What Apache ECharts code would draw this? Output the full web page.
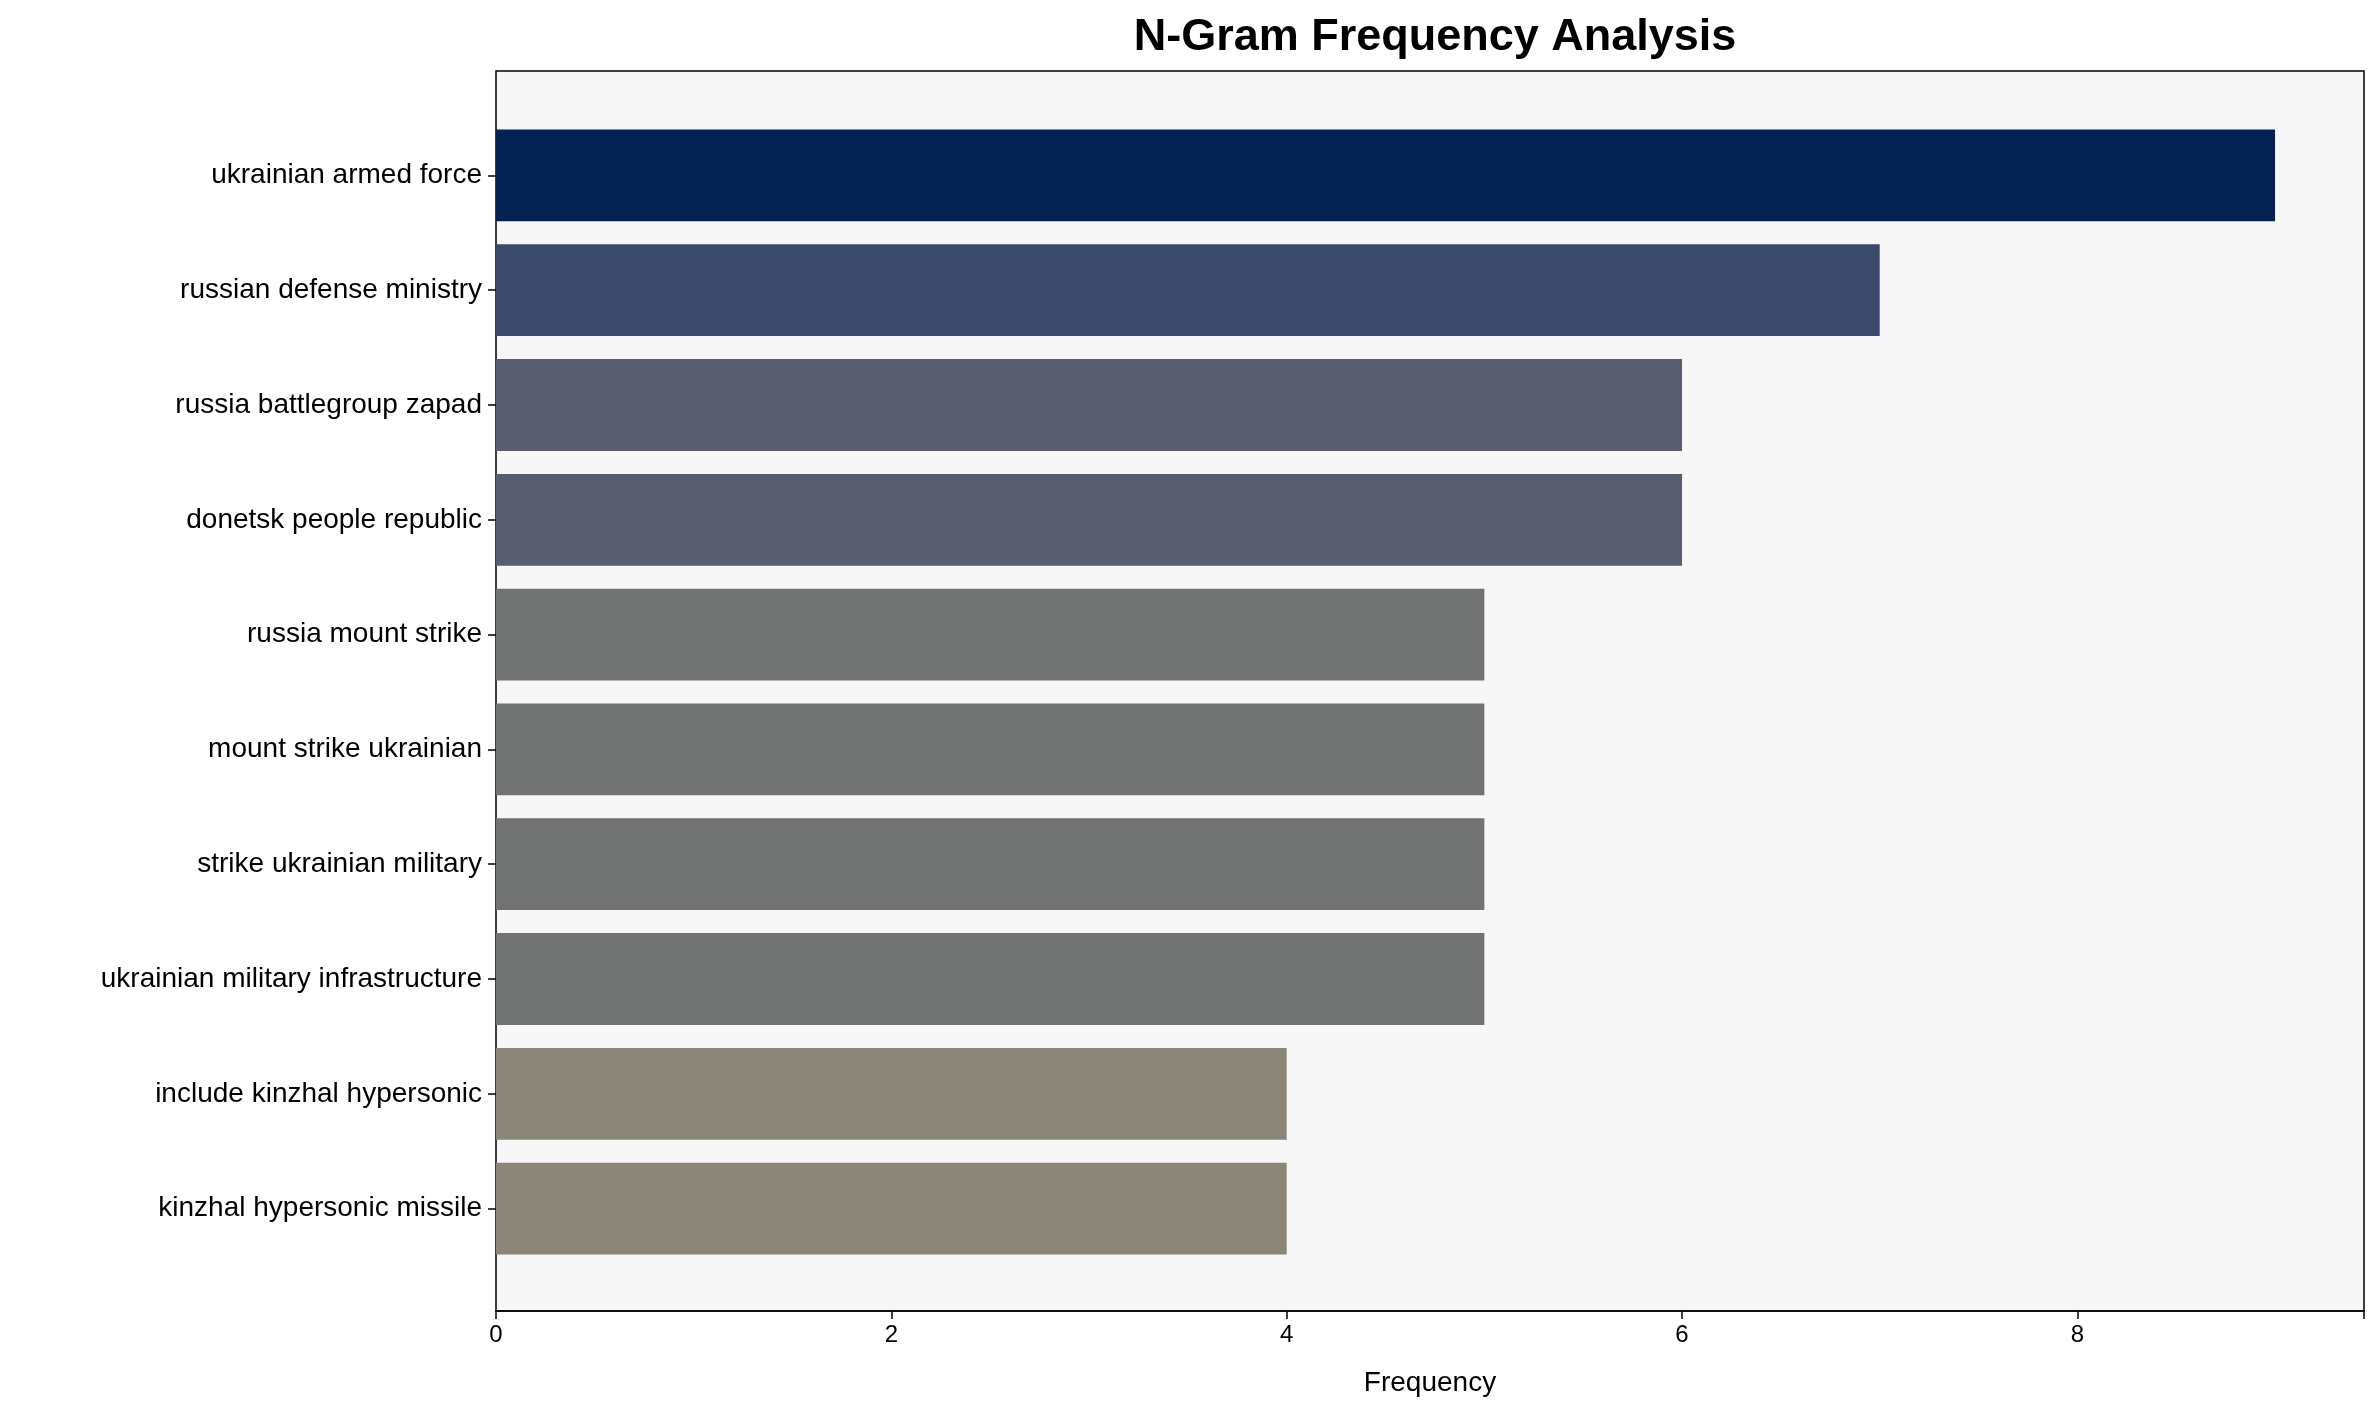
<!DOCTYPE html>
<html><head><meta charset="utf-8">
<script src="https://cdn.jsdelivr.net/npm/echarts@6/dist/echarts.min.js"></script>
<style>html,body{margin:0;background:#fff}#c{width:2372px;height:1414px}</style>
</head><body><div id="c"></div>
<script>
const categories = ["ukrainian armed force","russian defense ministry","russia battlegroup zapad","donetsk people republic","russia mount strike","mount strike ukrainian","strike ukrainian military","ukrainian military infrastructure","include kinzhal hypersonic","kinzhal hypersonic missile"];
const values = [9, 7, 6, 6, 5, 5, 5, 5, 4, 4];
const colors = ["#012252","#3b4a6b","#585e6e","#585e6e","#717272","#717272","#717272","#717272","#8a8778","#8a8778"];
const xTicks = [0, 2, 4, 6, 8];

const font = "Arial, 'Liberation Sans', sans-serif";
let chart = echarts.init(document.getElementById('c'));
chart.setOption({
    animation: false,
    title: {text: "N-Gram Frequency Analysis", left: 1430, top: 10, textAlign: 'center',
        textStyle: {fontFamily: font, fontSize: 45, fontWeight: 'bold', color: '#000'}},
    grid: [
        {left: 496, right: 8, top: 71, bottom: 103, show: true, backgroundColor: '#f7f7f7', borderColor: '#000', borderWidth: 1.5},
        {left: 496, right: 8, top: 118, bottom: 148}
    ],
    xAxis: [
        {gridIndex: 0, type: 'value', min: 0, max: 9.45, interval: 2,
         name: "Frequency", nameLocation: 'middle', nameGap: 58,
         nameTextStyle: {fontFamily: font, fontSize: 28, color: '#000'},
         axisLine: {show: true, lineStyle: {color: '#000', width: 1.5}},
         axisTick: {show: true, length: 8, lineStyle: {color: '#000', width: 1.5}},
         axisLabel: {fontFamily: font, fontSize: 24, color: '#000', margin: 12,
             formatter: v => xTicks.includes(v) ? String(v) : ''},
         splitLine: {show: false}},
        {gridIndex: 1, type: 'value', min: 0, max: 9.45, show: false, splitLine: {show: false}}
    ],
    yAxis: [
        {gridIndex: 0, type: 'value', min: 0, max: 1, show: false, splitLine: {show: false}},
        {gridIndex: 1, type: 'category', data: categories, inverse: true,
         axisLine: {show: false},
         axisTick: {show: true, alignWithLabel: true, length: 8, lineStyle: {color: '#000', width: 1.5}},
         axisLabel: {fontFamily: font, fontSize: 28, color: '#000', margin: 14}}
    ],
    series: [{
        type: 'bar', xAxisIndex: 1, yAxisIndex: 1, barWidth: '80%',
        data: values.map((v, i) => ({value: v, itemStyle: {color: colors[i]}}))
    }]
});
</script></body></html>
